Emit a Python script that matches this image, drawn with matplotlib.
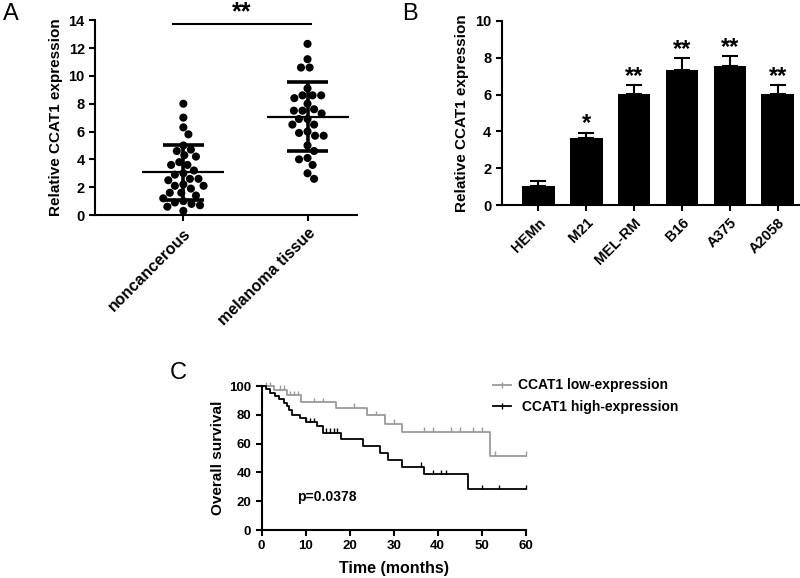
import numpy as np
import matplotlib.pyplot as plt
from matplotlib.lines import Line2D

plt.rcParams['font.family'] = ['Liberation Sans', 'DejaVu Sans']
plt.rcParams['font.weight'] = 'bold'
plt.rcParams['axes.labelweight'] = 'bold'
plt.rcParams['axes.linewidth'] = 1.5
plt.rcParams['xtick.major.width'] = 1.5
plt.rcParams['ytick.major.width'] = 1.5
plt.rcParams['xtick.major.size'] = 4
plt.rcParams['ytick.major.size'] = 4

# Panel A: relative CCAT1 expression in tissues
groups = ['noncancerous', 'melanoma tissue']
noncancerous = [8.0, 7.0, 6.3, 5.8, 5.0, 4.7, 4.6, 4.3, 4.2, 3.8, 3.6, 3.6, 3.2, 3.0, 2.9, 2.6,
                2.6, 2.5, 2.2, 2.1, 2.1, 1.9, 1.6, 1.6, 1.4, 1.2, 1.0, 0.9, 0.8, 0.7, 0.6, 0.3]
melanoma = [12.3, 11.2, 10.6, 10.6, 9.1, 8.6, 8.6, 8.6, 8.4, 8.0, 7.6, 7.5, 7.5, 7.3, 6.9, 6.9,
            6.5, 6.5, 6.0, 5.9, 5.7, 5.7, 5.0, 4.6, 4.1, 4.0, 3.6, 3.0, 2.6]
group_mean = [3.06, 7.08]
group_sd = [1.98, 2.45]

# Panel B: cell lines
cell_lines = ['HEMn', 'M21', 'MEL-RM', 'B16', 'A375', 'A2058']
line_expr = [1.03, 3.65, 6.02, 7.32, 7.54, 6.02]
line_err = [0.27, 0.29, 0.48, 0.67, 0.56, 0.48]
line_sig = ['', '*', '**', '**', '**', '**']

# Panel C: Kaplan-Meier curves
low_t = [0, 2.8, 5.7, 9, 17, 24, 28, 32, 52]
low_s = [100, 97.5, 93.5, 89, 85, 80, 74, 68.3, 51.6]
low_cens = [1, 2, 4.2, 5, 6.5, 7.4, 8.2, 12, 14, 21, 26, 30, 37, 39, 43, 45, 48, 50, 53, 60]
high_t = [0, 1, 2, 3, 4, 5, 5.7, 6.3, 7, 8.7, 10, 12.5, 13.9, 18, 23, 27, 28.7, 32, 37, 47]
high_s = [100, 98, 95.5, 93, 91, 88.5, 86, 83.5, 80, 77.5, 75, 72, 67.6, 63.5, 58.6, 53.7,
          48.6, 44, 38.6, 28.5]
high_cens = [10.2, 11, 12, 14.6, 15.5, 16.4, 17.2, 36.2, 39, 40.8, 42, 50, 54, 60]
t_end = 60


def swarm_offsets(y, ax, gap):
    # simple beeswarm: place each dot as close to the centre as it can go
    # without coming nearer than `gap` pixels to a dot already placed
    fig = ax.figure
    bb = ax.get_position()
    w_px = bb.width * fig.get_figwidth() * fig.dpi
    h_px = bb.height * fig.get_figheight() * fig.dpi
    x0, x1 = ax.get_xlim()
    y0, y1 = ax.get_ylim()
    sx = w_px / (x1 - x0)
    sy = h_px / (y1 - y0)
    yp = np.asarray(y) * sy
    placed = []
    offs = np.zeros(len(yp))
    for i in np.argsort(-yp):
        cands = [0.0]
        for xo, yo in placed:
            dy = yp[i] - yo
            if abs(dy) < gap:
                dx = np.sqrt(gap ** 2 - dy ** 2)
                cands += [xo + dx, xo - dx]
        cands.sort(key=abs)
        for c in cands:
            if all((c - xo) ** 2 + (yp[i] - yo) ** 2 >= gap ** 2 - 1e-6 for xo, yo in placed):
                break
        placed.append((c, yp[i]))
        offs[i] = c
    return offs / sx


fig = plt.figure(figsize=(8, 5.78), dpi=100)

# ---------------- A ----------------
axA = fig.add_axes([0.119, 0.628, 0.3275, 0.337])
axA.set_xlim(-0.71, 1.40)
axA.set_ylim(0, 14)
for i, g in enumerate([noncancerous, melanoma]):
    xo = swarm_offsets(g, axA, 8.6)
    axA.scatter(i + xo, g, s=34, color='black', edgecolors='none', zorder=3)
    m, sd = group_mean[i], group_sd[i]
    axA.hlines(m, i - 0.33, i + 0.33, color='black', lw=1.6, zorder=4)
    axA.vlines(i, m - sd, m + sd, color='black', lw=2.6, zorder=4)
    axA.hlines([m - sd, m + sd], i - 0.165, i + 0.165, color='black', lw=2.6, zorder=4)
axA.plot([-0.083, 1.03], [13.7, 13.7], color='black', lw=1.5, clip_on=False)
axA.text(0.47, 13.7, '**', ha='center', va='bottom', fontsize=18, clip_on=False)
axA.set_yticks(range(0, 15, 2))
axA.set_xticks([0, 1])
axA.set_xticklabels(groups, rotation=45, ha='right', rotation_mode='anchor', fontsize=11.5)
axA.tick_params(axis='y', labelsize=10.5)
axA.set_ylabel('Relative CCAT1 expression', fontsize=11, labelpad=4)
axA.spines['top'].set_visible(False)
axA.spines['right'].set_visible(False)

# ---------------- B ----------------
axB = fig.add_axes([0.627, 0.645, 0.375, 0.319])
xb = np.arange(len(cell_lines))
axB.bar(xb, line_expr, width=0.68, color='black')
axB.errorbar(xb, line_expr, yerr=[np.zeros(len(xb)), line_err], fmt='none',
             ecolor='black', elinewidth=1.5, capsize=5.5, capthick=1.5)
for x, v, e, s in zip(xb, line_expr, line_err, line_sig):
    if s:
        axB.text(x, v + e - 0.15, s, ha='center', va='bottom', fontsize=17)
axB.set_xlim(-0.77, 5.5)
axB.set_ylim(0, 10)
axB.set_yticks(range(0, 11, 2))
axB.set_xticks(xb)
axB.set_xticklabels(cell_lines, rotation=45, ha='right', rotation_mode='anchor', fontsize=10.5)
axB.tick_params(axis='y', labelsize=10.5)
axB.set_ylabel('Relative CCAT1 expression', fontsize=11, labelpad=4)
axB.spines['top'].set_visible(False)
axB.spines['right'].set_visible(False)

# ---------------- C ----------------
axC = fig.add_axes([0.327, 0.083, 0.330, 0.249])
grey = '#9a9a9a'
for t, s, cens, col in [(low_t, low_s, low_cens, grey), (high_t, high_s, high_cens, 'black')]:
    tt = np.array(t + [t_end])
    ss = np.array(s + [s[-1]])
    axC.step(tt, ss, where='post', color=col, lw=1.3, clip_on=False)
    idx = np.searchsorted(t, cens, side='right') - 1
    lev = np.array(s)[idx]
    axC.vlines(cens, lev, lev + 3, color=col, lw=1.0, clip_on=False)
axC.text(8, 23, 'p=0.0378', ha='left', va='center', fontsize=10)
axC.set_xlim(0, 60)
axC.set_ylim(0, 100)
axC.set_xticks(range(0, 61, 10))
axC.set_yticks(range(0, 101, 20))
axC.tick_params(labelsize=9.5)
axC.set_xlabel('Time (months)', fontsize=11.5, labelpad=6)
axC.set_ylabel('Overall survival', fontsize=11, labelpad=3)
axC.spines['top'].set_visible(False)
axC.spines['right'].set_visible(False)

handles = [Line2D([0], [0], color=grey, lw=1.3, marker='|', markersize=5),
           Line2D([0], [0], color='black', lw=1.3, marker='|', markersize=5)]
fig.legend(handles, ['CCAT1 low-expression', ' CCAT1 high-expression'],
           loc='upper left', bbox_to_anchor=(0.6, 1 - 366 / 578), frameon=False,
           fontsize=10, handlelength=1.3, handletextpad=0.5, labelspacing=0.55)

# panel letters
fig.text(0.004, 0.995, 'A', fontsize=17, fontweight='normal', va='top')
fig.text(0.503, 0.995, 'B', fontsize=17, fontweight='normal', va='top')
fig.text(0.212, 1 - 362 / 578, 'C', fontsize=17, fontweight='normal', va='top')

fig.savefig('out.png', dpi=100)
